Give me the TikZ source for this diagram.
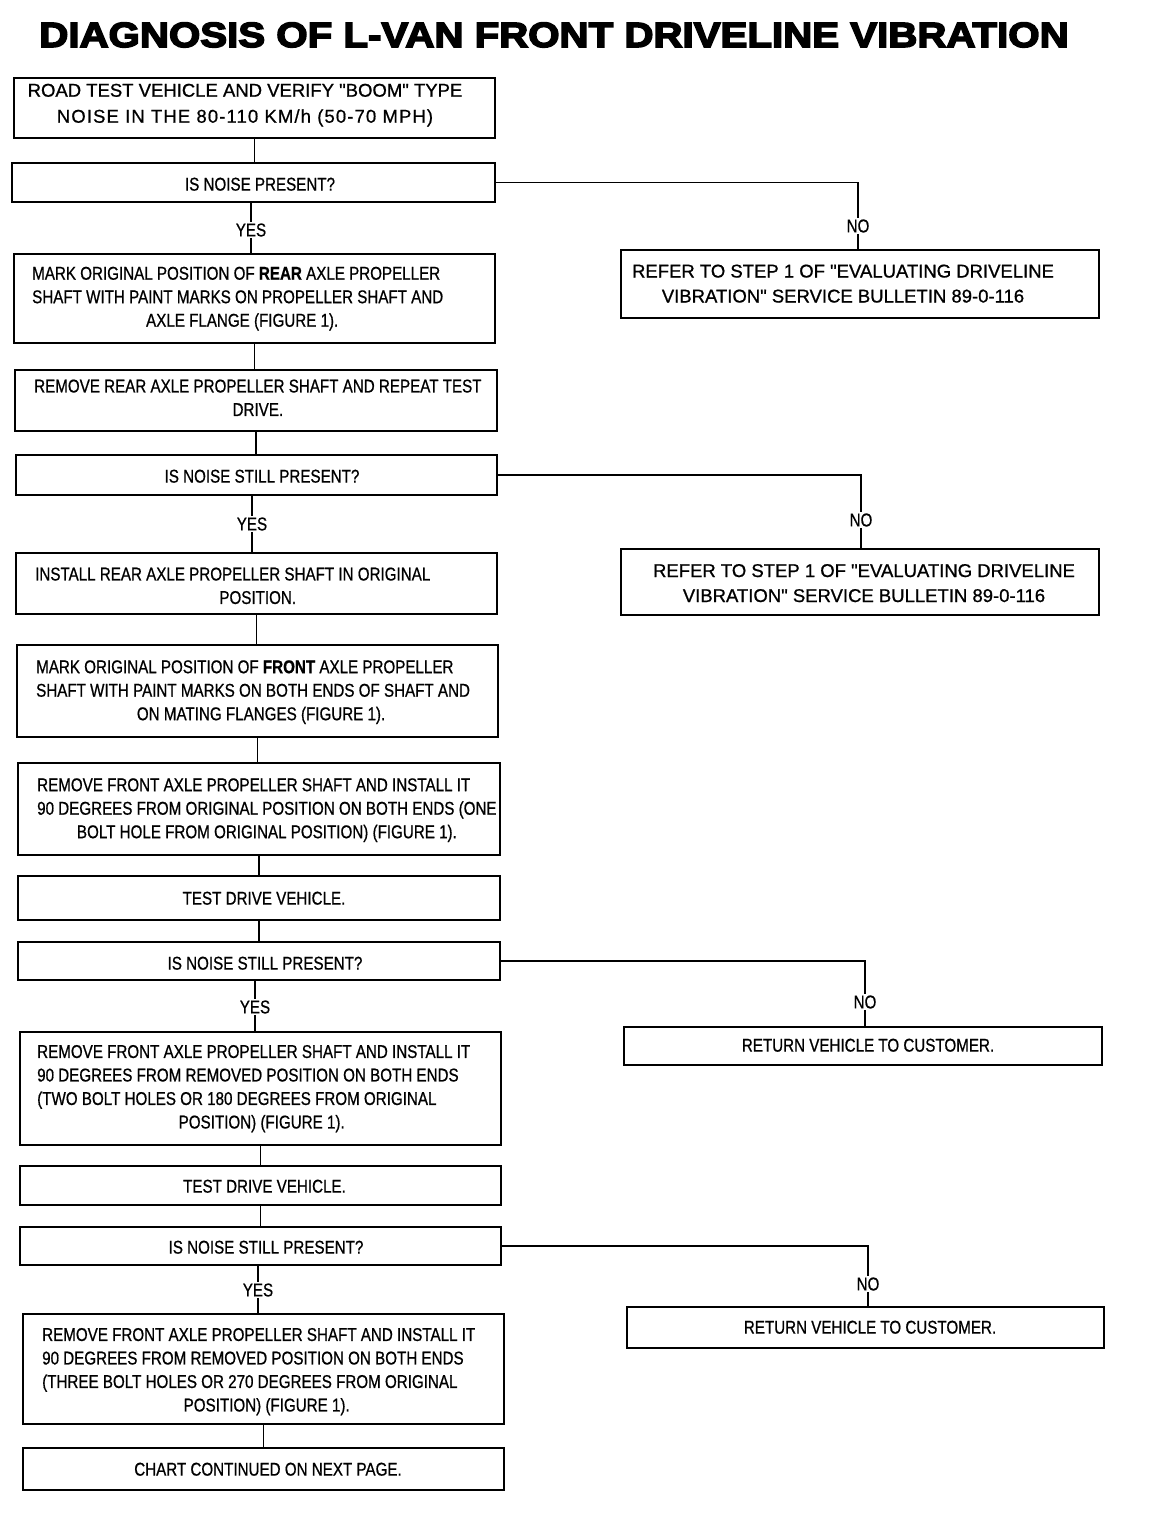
\documentclass[tikz,border=0pt]{standalone}
\usepackage{fontspec}
\setmainfont{Liberation Sans}
\newfontfamily\cond[FakeStretch=0.82,FakeBold=0.7]{Liberation Sans}
\newfontfamily\regf[FakeBold=0.9]{Liberation Sans}
\newfontfamily\widef[LetterSpace=6,FakeBold=0.7]{Liberation Sans}
\newfontfamily\ttlf[FakeStretch=1.15,FakeBold=4.5]{Liberation Sans}
\usetikzlibrary{fit}
\newcommand{\ct}{\cond\fontsize{18.5}{23.5}\selectfont}
\newcommand{\rt}{\regf\fontsize{18.5}{25}\selectfont}
\newcommand{\lastc}[1]{\multicolumn{1}{@{}c@{}}{#1}}
\begin{document}
\begin{tikzpicture}[x=1pt,y=-1pt,
  box/.style={draw, line width=1.6pt, inner sep=0pt},
  conn/.style={line width=1.3pt},
  txt/.style={inner sep=0pt, font=\ct},
  rtxt/.style={inner sep=0pt, font=\rt},
  lbl/.style={inner sep=1pt, font=\ct}]
\fill[white] (0,0) rectangle (1152,1520);
\useasboundingbox (0,0) rectangle (1152,1520);

% title
\node[inner sep=0pt, anchor=base, font=\ttlf\bfseries\fontsize{35}{40}\selectfont] (title) at (554,47) {DIAGNOSIS OF L-VAN FRONT DRIVELINE VIBRATION};

% boxes
\node[box, fit={(14,78) (495,138)}] (b1) {};
\node[box, fit={(12,163) (495,202)}] (b2) {};
\node[box, fit={(14,254) (495,343)}] (b3) {};
\node[box, fit={(621,250) (1099,318)}] (r1) {};
\node[box, fit={(15,370) (497,431)}] (b4) {};
\node[box, fit={(16,455) (497,495)}] (b5) {};
\node[box, fit={(16,553) (497,614)}] (b6) {};
\node[box, fit={(621,549) (1099,615)}] (r2) {};
\node[box, fit={(17,645) (498,737)}] (b7) {};
\node[box, fit={(18,763) (500,855)}] (b8) {};
\node[box, fit={(18,876) (500,920)}] (b9) {};
\node[box, fit={(18,942) (500,980)}] (b10) {};
\node[box, fit={(624,1027) (1102,1065)}] (r3) {};
\node[box, fit={(20,1032) (501,1145)}] (b11) {};
\node[box, fit={(20,1166) (501,1205)}] (b12) {};
\node[box, fit={(20,1227) (501,1265)}] (b13) {};
\node[box, fit={(627,1307) (1104,1348)}] (r4) {};
\node[box, fit={(23,1314) (504,1424)}] (b14) {};
\node[box, fit={(23,1448) (504,1490)}] (b15) {};

% texts
\node[txt] (t1) at (245,105) {\begin{tabular}{@{}c@{}}{\regf\fontsize{18.5}{23.5}\selectfont ROAD TEST VEHICLE AND VERIFY "BOOM" TYPE}\\[2.5pt] {\widef\fontsize{18.5}{23.5}\selectfont NOISE IN THE 80-110 KM/h (50-70 MPH)}\end{tabular}};
\node[txt, anchor=base] (t2) at (260,190.6) {IS NOISE PRESENT?};
\node[txt, anchor=west] (t3) at (32,298.5) {\begin{tabular}{@{}l@{}}MARK ORIGINAL POSITION OF {\bfseries REAR} AXLE PROPELLER\\ SHAFT WITH PAINT MARKS ON PROPELLER SHAFT AND\\ \lastc{\hspace*{9pt}AXLE FLANGE (FIGURE 1).}\end{tabular}};
\node[rtxt] (rt1) at (843,285) {\begin{tabular}{@{}c@{}}REFER TO STEP 1 OF "EVALUATING DRIVELINE\\ VIBRATION" SERVICE BULLETIN 89-0-116\end{tabular}};
\node[txt, anchor=west] (t4) at (34,399.5) {\begin{tabular}{@{}l@{}}REMOVE REAR AXLE PROPELLER SHAFT AND REPEAT TEST\\ \lastc{DRIVE.}\end{tabular}};
\node[txt, anchor=base] (t5) at (262,482.6) {IS NOISE STILL PRESENT?};
\node[txt, anchor=west] (t6) at (35,587.5) {\begin{tabular}{@{}l@{}}INSTALL REAR AXLE PROPELLER SHAFT IN ORIGINAL\\ \lastc{\hspace*{50pt}POSITION.}\end{tabular}};
\node[rtxt] (rt2) at (864,584.5) {\begin{tabular}{@{}c@{}}REFER TO STEP 1 OF "EVALUATING DRIVELINE\\ VIBRATION" SERVICE BULLETIN 89-0-116\end{tabular}};
\node[txt, anchor=west] (t7) at (36,692) {\begin{tabular}{@{}l@{}}MARK ORIGINAL POSITION OF {\bfseries FRONT} AXLE PROPELLER\\ SHAFT WITH PAINT MARKS ON BOTH ENDS OF SHAFT AND\\ \lastc{\hspace*{16pt}ON MATING FLANGES (FIGURE 1).}\end{tabular}};
\node[txt, anchor=west] (t8) at (37,810) {\begin{tabular}{@{}l@{}}REMOVE FRONT AXLE PROPELLER SHAFT AND INSTALL IT\\ 90 DEGREES FROM ORIGINAL POSITION ON BOTH ENDS (ONE\\ \lastc{BOLT HOLE FROM ORIGINAL POSITION) (FIGURE 1).}\end{tabular}};
\node[txt, anchor=base] (t9) at (264,904.6) {TEST DRIVE VEHICLE.};
\node[txt, anchor=base] (t10) at (265,969.6) {IS NOISE STILL PRESENT?};
\node[txt, anchor=base] (rt3) at (868,1051.6) {RETURN VEHICLE TO CUSTOMER.};
\node[txt, anchor=west] (t11) at (37,1088.5) {\begin{tabular}{@{}l@{}}REMOVE FRONT AXLE PROPELLER SHAFT AND INSTALL IT\\ 90 DEGREES FROM REMOVED POSITION ON BOTH ENDS\\ (TWO BOLT HOLES OR 180 DEGREES FROM ORIGINAL\\ \lastc{\hspace*{16pt}POSITION) (FIGURE 1).}\end{tabular}};
\node[txt, anchor=base] (t12) at (264.5,1192.6) {TEST DRIVE VEHICLE.};
\node[txt, anchor=base] (t13) at (266,1253.6) {IS NOISE STILL PRESENT?};
\node[txt, anchor=base] (rt4) at (870,1333.6) {RETURN VEHICLE TO CUSTOMER.};
\node[txt, anchor=west] (t14) at (42,1371.5) {\begin{tabular}{@{}l@{}}REMOVE FRONT AXLE PROPELLER SHAFT AND INSTALL IT\\ 90 DEGREES FROM REMOVED POSITION ON BOTH ENDS\\ (THREE BOLT HOLES OR 270 DEGREES FROM ORIGINAL\\ \lastc{\hspace*{16pt}POSITION) (FIGURE 1).}\end{tabular}};
\node[txt, anchor=base] (t15) at (268,1475.6) {CHART CONTINUED ON NEXT PAGE.};

% labels
\node[lbl] (yes1) at (251,230) {YES};
\node[lbl] (no1) at (858,226) {NO};
\node[lbl] (yes2) at (252,524) {YES};
\node[lbl] (no2) at (861,520) {NO};
\node[lbl] (yes3) at (255,1007) {YES};
\node[lbl] (no3) at (865,1002) {NO};
\node[lbl] (yes4) at (258,1290) {YES};
\node[lbl] (no4) at (868,1284) {NO};

% connectors
\draw[conn] (b1.south) -- (b1.south |- b2.north);
\draw[conn] (b2.south -| yes1) -- (yes1);
\draw[conn] (yes1) -- (yes1 |- b3.north);
\draw[conn] (b2.east) -| (no1);
\draw[conn] (no1) -- (no1 |- r1.north);
\draw[conn] (b3.south) -- (b3.south |- b4.north);
\draw[conn] (b4.south) -- (b4.south |- b5.north);
\draw[conn] (b5.south -| yes2) -- (yes2);
\draw[conn] (yes2) -- (yes2 |- b6.north);
\draw[conn] (b5.east) -| (no2);
\draw[conn] (no2) -- (no2 |- r2.north);
\draw[conn] (b6.south) -- (b6.south |- b7.north);
\draw[conn] (b7.south) -- (b7.south |- b8.north);
\draw[conn] (b8.south) -- (b8.south |- b9.north);
\draw[conn] (b9.south) -- (b9.south |- b10.north);
\draw[conn] (b10.south -| yes3) -- (yes3);
\draw[conn] (yes3) -- (yes3 |- b11.north);
\draw[conn] (b10.east) -| (no3);
\draw[conn] (no3) -- (no3 |- r3.north);
\draw[conn] (b11.south) -- (b11.south |- b12.north);
\draw[conn] (b12.south) -- (b12.south |- b13.north);
\draw[conn] (b13.south -| yes4) -- (yes4);
\draw[conn] (yes4) -- (yes4 |- b14.north);
\draw[conn] (b13.east) -| (no4);
\draw[conn] (no4) -- (no4 |- r4.north);
\draw[conn] (b14.south) -- (b14.south |- b15.north);
\end{tikzpicture}
\end{document}
